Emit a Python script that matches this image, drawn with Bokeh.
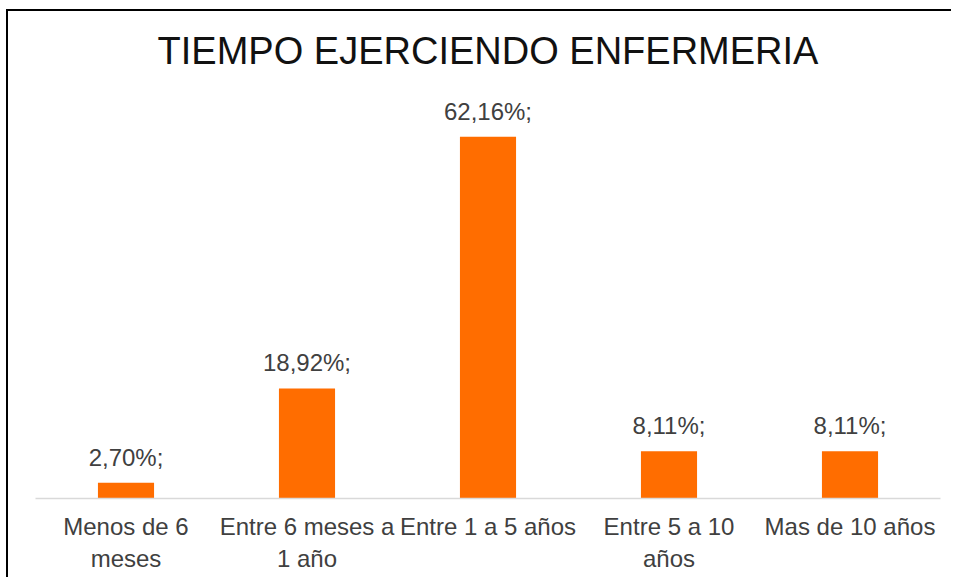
from bokeh.plotting import figure
from bokeh.models import ColumnDataSource, LabelSet, FactorRange, Range1d
from bokeh.core.properties import value
from bokeh.embed import file_html
from bokeh.resources import INLINE

categories = ["Menos de 6 meses", "Entre 6 meses a 1 año", "Entre 1 a 5 años",
              "Entre 5 a 10 años", "Mas de 10 años"]
values = [2.70, 18.92, 62.16, 8.11, 8.11]
tick_labels = ["Menos de 6\nmeses", "Entre 6 meses a\n1 año", "Entre 1 a 5 años",
               "Entre 5 a 10\naños", "Mas de 10 años"]
title_text = "TIEMPO EJERCIENDO ENFERMERIA"

labels = [f"{v:.2f}".replace(".", ",") + "%;" for v in values]
src = ColumnDataSource(dict(cat=categories, tick=tick_labels, val=values, lbl=labels))

FONT = "Liberation Sans"

p = figure(x_range=FactorRange(*tick_labels), y_range=Range1d(0, 72),
           width=945, height=568, output_backend="svg", toolbar_location=None,
           min_border_left=27, min_border_right=13, min_border_top=68,
           min_border_bottom=81, background_fill_color="white",
           border_fill_color="white")

p.vbar(x="tick", top="val", width=0.31, source=src, fill_color="#FF6D00",
       line_color=None)

p.add_layout(LabelSet(x="tick", y="val", text="lbl", source=src,
                      text_align="center", text_baseline="alphabetic",
                      y_offset=17, text_font_size="24px", text_color="#404040",
                      text_font=value(FONT)))

p.title.text = title_text
p.title.align = "center"
p.title.text_font = FONT
p.title.text_font_size = "38px"
p.title.text_font_style = "normal"
p.title.text_color = "#111111"
p.title.standoff = 15

ax = p.xaxis[0]
ax.axis_line_color = "#d9d9d9"
ax.axis_line_width = 1.5
ax.major_tick_line_color = None
ax.minor_tick_line_color = None
ax.major_label_text_font = FONT
ax.major_label_text_font_size = "24px"
ax.major_label_text_color = "#404040"
ax.major_label_standoff = 8

p.yaxis.visible = False
p.xgrid.visible = False
p.ygrid.visible = False
p.outline_line_color = None
p.styles = {"margin-left": "6px", "margin-top": "9px",
            "border-top": "2px solid #000", "border-left": "2px solid #000"}

open("out.html", "w").write(file_html(p, INLINE))
